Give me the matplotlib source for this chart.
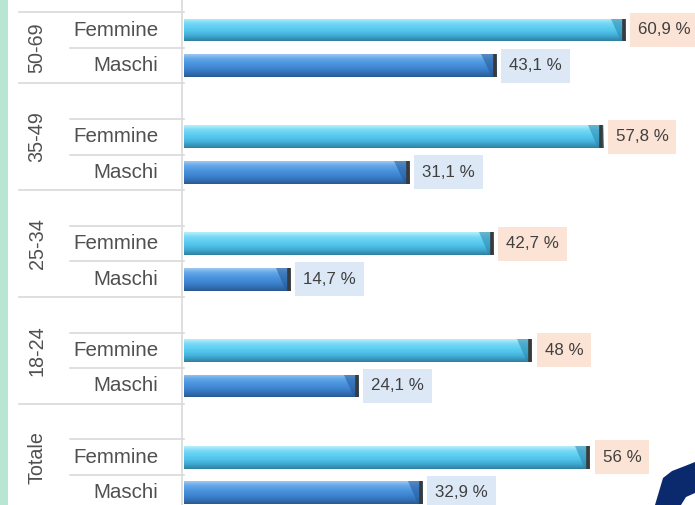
import matplotlib
matplotlib.use("Agg")
import matplotlib.pyplot as plt
import numpy as np
from matplotlib.patches import Rectangle, Polygon
from matplotlib.colors import LinearSegmentedColormap

# ---- data ----
groups = ["50-69", "35-49", "25-34", "18-24", "Totale"]
series = ["Femmine", "Maschi"]
femmine = [60.9, 57.8, 42.7, 48, 56]
maschi = [43.1, 31.1, 14.7, 24.1, 32.9]
fem_labels = ["60,9 %", "57,8 %", "42,7 %", "48 %", "56 %"]
mas_labels = ["43,1 %", "31,1 %", "14,7 %", "24,1 %", "32,9 %"]

# ---- figure ----
W, H = 695, 505
fig = plt.figure(figsize=(W / 100, H / 100), dpi=100)
fig.patch.set_facecolor("white")

px_per_unit = 7.25
x0_px = 183.5
pitch = 35.6
y0_px = 30.0

ax = fig.add_axes([0, 0, 1, 1])
ax.set_xlim(-x0_px / px_per_unit, (W - x0_px) / px_per_unit)
ax.set_ylim((H - y0_px) / pitch, -y0_px / pitch)
ax.axis("off")

font = "Liberation Sans"
txt_col = "#505050"

fem_cmap = LinearSegmentedColormap.from_list(
    "fem", ["#b8effc", "#78d9f6", "#5ecff1", "#4fc0e8", "#3fa6cf", "#2f7f a0".replace(" ", "")])
mas_cmap = LinearSegmentedColormap.from_list(
    "mas", ["#9cc8f1", "#62a6e8", "#4c95de", "#4087d3", "#3473ba", "#2a5a90"])
grad = np.linspace(0, 1, 64).reshape(-1, 1)

bar_h = 0.64
line_col = "#d9d9d9"
texts = []

for g, name in enumerate(groups):
    yf = 3 * g
    ym = 3 * g + 1
    for y, val, lab, cmap, bg, dark in [
        (yf, femmine[g], fem_labels[g], fem_cmap, "#fbe3d6", "#2a86ad"),
        (ym, maschi[g], mas_labels[g], mas_cmap, "#dce8f5", "#24599a"),
    ]:
        bars = ax.barh([y], [val], height=bar_h, left=0, color="none", edgecolor="none")
        patch = bars.patches[0]
        im = ax.imshow(grad, cmap=cmap, aspect="auto", origin="upper",
                       extent=(0, val, y + bar_h / 2, y - bar_h / 2),
                       interpolation="bilinear", zorder=2)
        im.set_clip_path(patch)
        bev = Polygon([(val - 2.0, y - bar_h / 2), (val, y - bar_h / 2),
                       (val, y + bar_h / 2), (val - 0.6, y + bar_h / 2)],
                      closed=True, facecolor=dark, alpha=0.55,
                      edgecolor="none", zorder=3)
        ax.add_patch(bev)
        ax.plot([val - 0.15, val - 0.15], [y - bar_h / 2, y + bar_h / 2],
                color="#3a3a3a", lw=2.6, solid_capstyle="butt", zorder=4)
        t = ax.text(val + 1.8, y, lab, fontsize=12.2, family=font, color="#404040",
                    va="center", ha="left", zorder=6)
        texts.append((t, y, bg))
        ax.text(-3.5, y, series[0] if y == yf else series[1], fontsize=14.8,
                family=font, color=txt_col, va="center", ha="right")
    gc = 3 * g if g > 0 else 0.5
    ax.text(-20.2, gc, name, fontsize=14.2, family=font, color=txt_col,
            rotation=90, va="center", ha="center")

# label boxes, sized to the text
fig.canvas.draw()
r = fig.canvas.get_renderer()
inv = ax.transData.inverted()
for t, y, bg in texts:
    bb = t.get_window_extent(renderer=r)
    (x_l, _), (x_r, _) = inv.transform([(bb.x0 - 8, 0), (bb.x1 + 8, 0)])
    hh = 34 / pitch
    ax.add_patch(Rectangle((x_l, y - hh / 2), x_r - x_l, hh, facecolor=bg,
                           edgecolor="none", zorder=5))

full_x = (19 - x0_px) / px_per_unit
sub_x = (70 - x0_px) / px_per_unit
for yb in [-0.5, 1.5, 4.5, 7.5, 10.5, 13.5]:
    ax.plot([full_x, 0], [yb, yb], color=line_col, lw=1.2, zorder=1)
for yb in [0.5, 2.5, 3.5, 5.5, 6.5, 8.5, 9.5, 11.5, 12.5]:
    ax.plot([sub_x, 0], [yb, yb], color=line_col, lw=1.2, zorder=1)
ax.plot([-0.2, -0.2], [-1, 14], color=line_col, lw=1.2, zorder=1)

fig.patches.append(Rectangle((0, 0), 8 / W, 1, transform=fig.transFigure,
                             facecolor="#b8e6d3", edgecolor="none", zorder=0))

pts = [(655, 505), (663, 478), (672, 471), (685, 466), (695, 462),
       (695, 493), (686, 497), (681, 505)]
fig.patches.append(Polygon([(x / W, 1 - y / H) for x, y in pts], closed=True,
                           transform=fig.transFigure, facecolor="#0b2a6e",
                           edgecolor="none", zorder=10))

fig.savefig("out.png", dpi=100, facecolor="white")
